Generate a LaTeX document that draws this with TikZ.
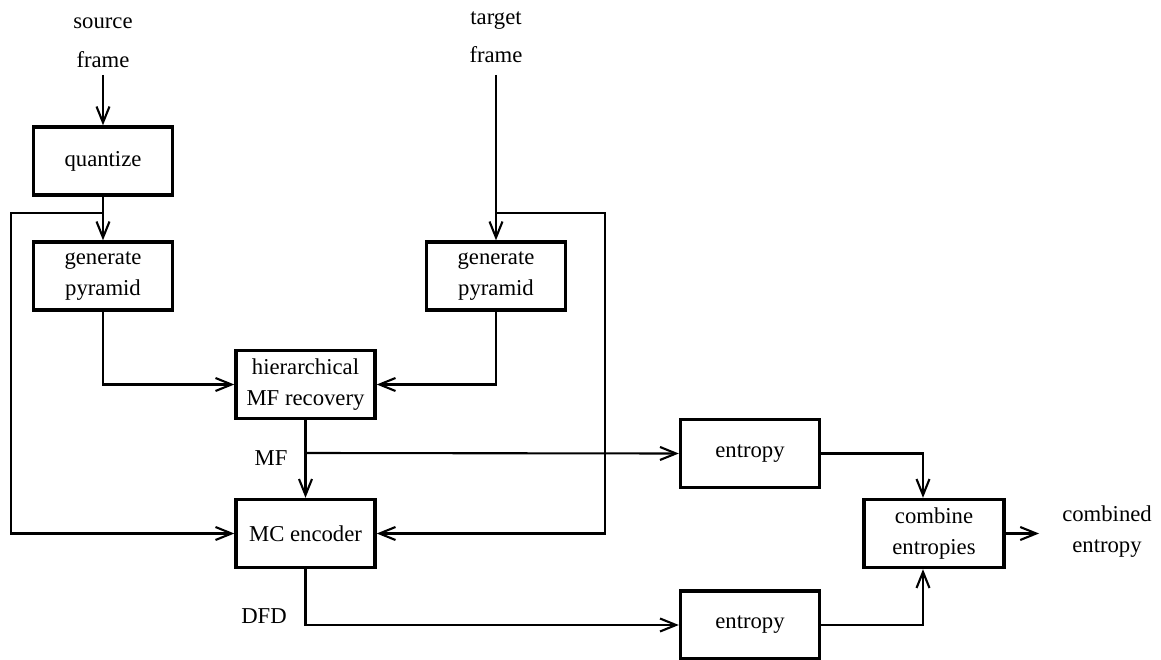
\documentclass[tikz,border=0pt]{standalone}
\usepackage{fontspec}
\setmainfont{Liberation Serif}
\usetikzlibrary{arrows.meta}
\begin{document}
\begin{tikzpicture}[x=1pt,y=-1pt,
  every node/.style={font=\fontsize{22.7}{31}\selectfont, align=center, inner sep=4pt},
  block/.style={draw, line width=3.4pt, minimum width=139pt, minimum height=68pt},
  label/.style={},
  wire/.style={line width=2.1pt},
  flow/.style={wire, -{Straight Barb[length=16pt,width=13pt,line width=2.1pt]}}]
\useasboundingbox (0,0) rectangle (1161,660);

% labels
\node[label] (src) at (103,43) {source\\[8pt]frame};
\node[label] (tgt) at (496,37) {target\\[7pt]frame};
\node[label] (mf)  at (271,458) {MF};
\node[label] (dfd) at (264,616) {DFD};
\node[label] (out) at (1107,532) {combined\\entropy};

% blocks
\node[block] (q)    at (103,161)   {quantize};
\node[block] (gp1)  at (103,276)   {generate\\pyramid};
\node[block] (gp2)  at (496,276)   {generate\\pyramid};
\node[block] (hier) at (305.5,384.5) {hierarchical\\MF recovery};
\node[block] (mc)   at (305.5,533.5) {MC encoder};
\node[block] (e1)   at (750,453.5) {entropy};
\node[block] (e2)   at (750,625)   {entropy};
\node[block, minimum width=140pt] (comb) at (934,533.5) {combine\\entropies};

% junctions and free ends
\coordinate (sin) at (103,75);
\coordinate (tin) at (496,75);
\coordinate (bq)  at (103,213);
\coordinate (lx)  at (11,213);
\coordinate (bt)  at (496,213);
\coordinate (rx)  at (605,213);
\coordinate (bmf) at (305.5,453);
\coordinate (cout) at (1039,533.5);

% connectors
\draw[flow] (sin) -- (q.north);
\draw[flow] (q.south) -- (gp1.north);
\draw[flow] (bq) -- (lx) |- (mc.west);
\draw[flow] (tin) -- (gp2.north);
\draw[flow] (bt) -- (rx) |- (mc.east);
\draw[flow] (gp1.south) |- (hier.west);
\draw[flow] (gp2.south) |- (hier.east);
\draw[flow] (hier.south) -- (mc.north);
\draw[flow] (bmf) -- (e1.west);
\draw[flow] (mc.south) |- (e2.west);
\draw[flow] (e1.east) -| ([xshift=-11pt]comb.north);
\draw[flow] (e2.east) -| ([xshift=-11pt]comb.south);
\draw[flow] (comb.east) -- (cout);
\end{tikzpicture}
\end{document}
